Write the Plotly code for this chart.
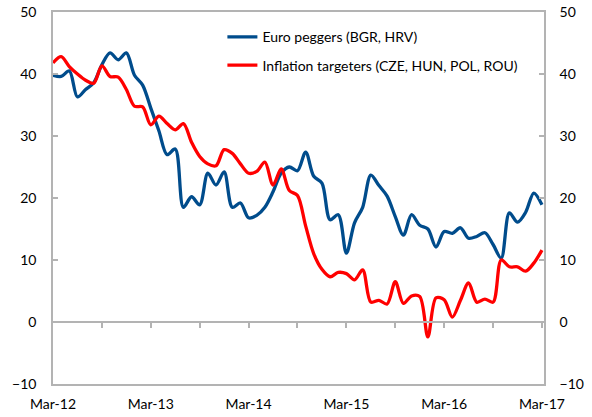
import pandas as pd
import plotly.graph_objects as go

months = pd.date_range("2012-03-01", periods=61, freq="MS")
month_idx = list(range(61))

euro_peggers = [39.8, 39.6, 40.5, 36.3, 37.5, 38.6, 41.5, 43.4, 42.3, 43.4,
                39.8, 38.2, 34.5, 30.8, 27.0, 27.9, 18.5, 20.2, 18.9, 24.0,
                22.1, 24.2, 18.5, 19.2, 16.8, 17.2, 18.5, 21.0, 24.0, 25.0,
                24.4, 27.4, 23.5, 22.4, 16.5, 17.3, 11.1, 16.0, 18.5, 23.7,
                22.0, 20.3, 17.0, 14.0, 17.3, 15.6, 15.0, 12.1, 14.6, 14.3,
                15.2, 13.5, 13.8, 14.4, 12.5, 10.3, 17.6, 16.1, 17.7, 20.8,
                18.9]

inflation_targeters = [41.8, 42.8, 41.2, 40.0, 39.0, 38.5, 41.3, 39.6, 39.5, 37.5,
                       34.8, 34.7, 31.8, 33.2, 32.0, 31.0, 32.0, 29.0, 26.7, 25.5,
                       25.2, 27.8, 27.2, 25.5, 24.0, 24.3, 25.8, 22.1, 24.7, 21.2,
                       20.4, 15.5, 11.0, 8.5, 7.3, 8.0, 7.8, 6.8, 8.4, 3.2,
                       3.5, 2.9, 6.5, 3.0, 4.2, 4.1, -2.4, 3.9, 3.6, 0.8,
                       3.5, 6.3, 3.2, 3.7, 3.2, 10.0, 8.9, 8.9, 8.2, 9.5,
                       11.6]

tick_idx = [0, 12, 24, 36, 48, 60]
tick_labels = [months[i].strftime("%b-%y") for i in tick_idx]
minor_ticks = list(range(6, 61, 6))
y_ticks = [-10, 0, 10, 20, 30, 40, 50]

FONT = "Lato"
AX = "#B3B3B3"

fig = go.Figure()
fig.add_trace(go.Scatter(x=month_idx, y=euro_peggers, mode="lines",
                         name="Euro peggers (BGR, HRV)", legendgroup="a",
                         line=dict(color="#004C8C", width=3.3, shape="spline", smoothing=0.9)))
fig.add_trace(go.Scatter(x=month_idx, y=inflation_targeters, mode="lines",
                         name="Inflation targeters (CZE, HUN, POL, ROU)", legendgroup="b",
                         line=dict(color="#FF0000", width=3.3, shape="spline", smoothing=0.9)))
fig.add_trace(go.Scatter(x=month_idx, y=euro_peggers, yaxis="y2", mode="lines",
                         line=dict(width=0), hoverinfo="skip", showlegend=False, opacity=0))
fig.add_trace(go.Scatter(x=[0], y=[0], xaxis="x2", mode="markers", marker=dict(opacity=0),
                         hoverinfo="skip", showlegend=False))

xr = [0, 60.25]
fig.update_layout(
    width=592, height=417,
    margin=dict(l=53, r=48, t=12, b=33, autoexpand=False),
    paper_bgcolor="white", plot_bgcolor="white",
    font=dict(family=FONT, size=14, color="#000000"),
    showlegend=True,
    legend=dict(x=0.345, y=0.975, xanchor="left", yanchor="top",
                bgcolor="rgba(0,0,0,0)", font=dict(size=14, family=FONT),
                traceorder="grouped", tracegroupgap=7, itemwidth=30),
    xaxis=dict(range=xr, tickmode="array", tickvals=tick_idx, ticktext=tick_labels,
               showgrid=False, zeroline=False, showline=True, linecolor=AX, linewidth=1.5,
               mirror=True, ticks="", ticklabelstandoff=6, automargin=False),
    xaxis2=dict(range=xr, overlaying="x", anchor="free", position=1/6,
                tickmode="array", tickvals=minor_ticks, showticklabels=False,
                showgrid=False, zeroline=False, showline=True, linecolor=AX, linewidth=1.5,
                ticks="outside", ticklen=5, tickcolor=AX, tickwidth=1.5, automargin=False),
    yaxis=dict(range=[-10, 50], tickmode="array", tickvals=y_ticks,
               showgrid=False, zeroline=False, showline=True, linecolor=AX, linewidth=1.5,
               ticks="inside", ticklen=5, tickcolor=AX, tickwidth=1.5, ticklabelstandoff=12,
               automargin=False),
    yaxis2=dict(range=[-10, 50], overlaying="y", side="right", tickmode="array", tickvals=y_ticks,
                showgrid=False, zeroline=False, showline=True, linecolor=AX, linewidth=1.5,
                ticks="inside", ticklen=5, tickcolor=AX, tickwidth=1.5, ticklabelstandoff=11,
                automargin=False),
)

fig.write_html("out.html", config={"displayModeBar": False},
               post_script="document.body.style.margin='0';")
